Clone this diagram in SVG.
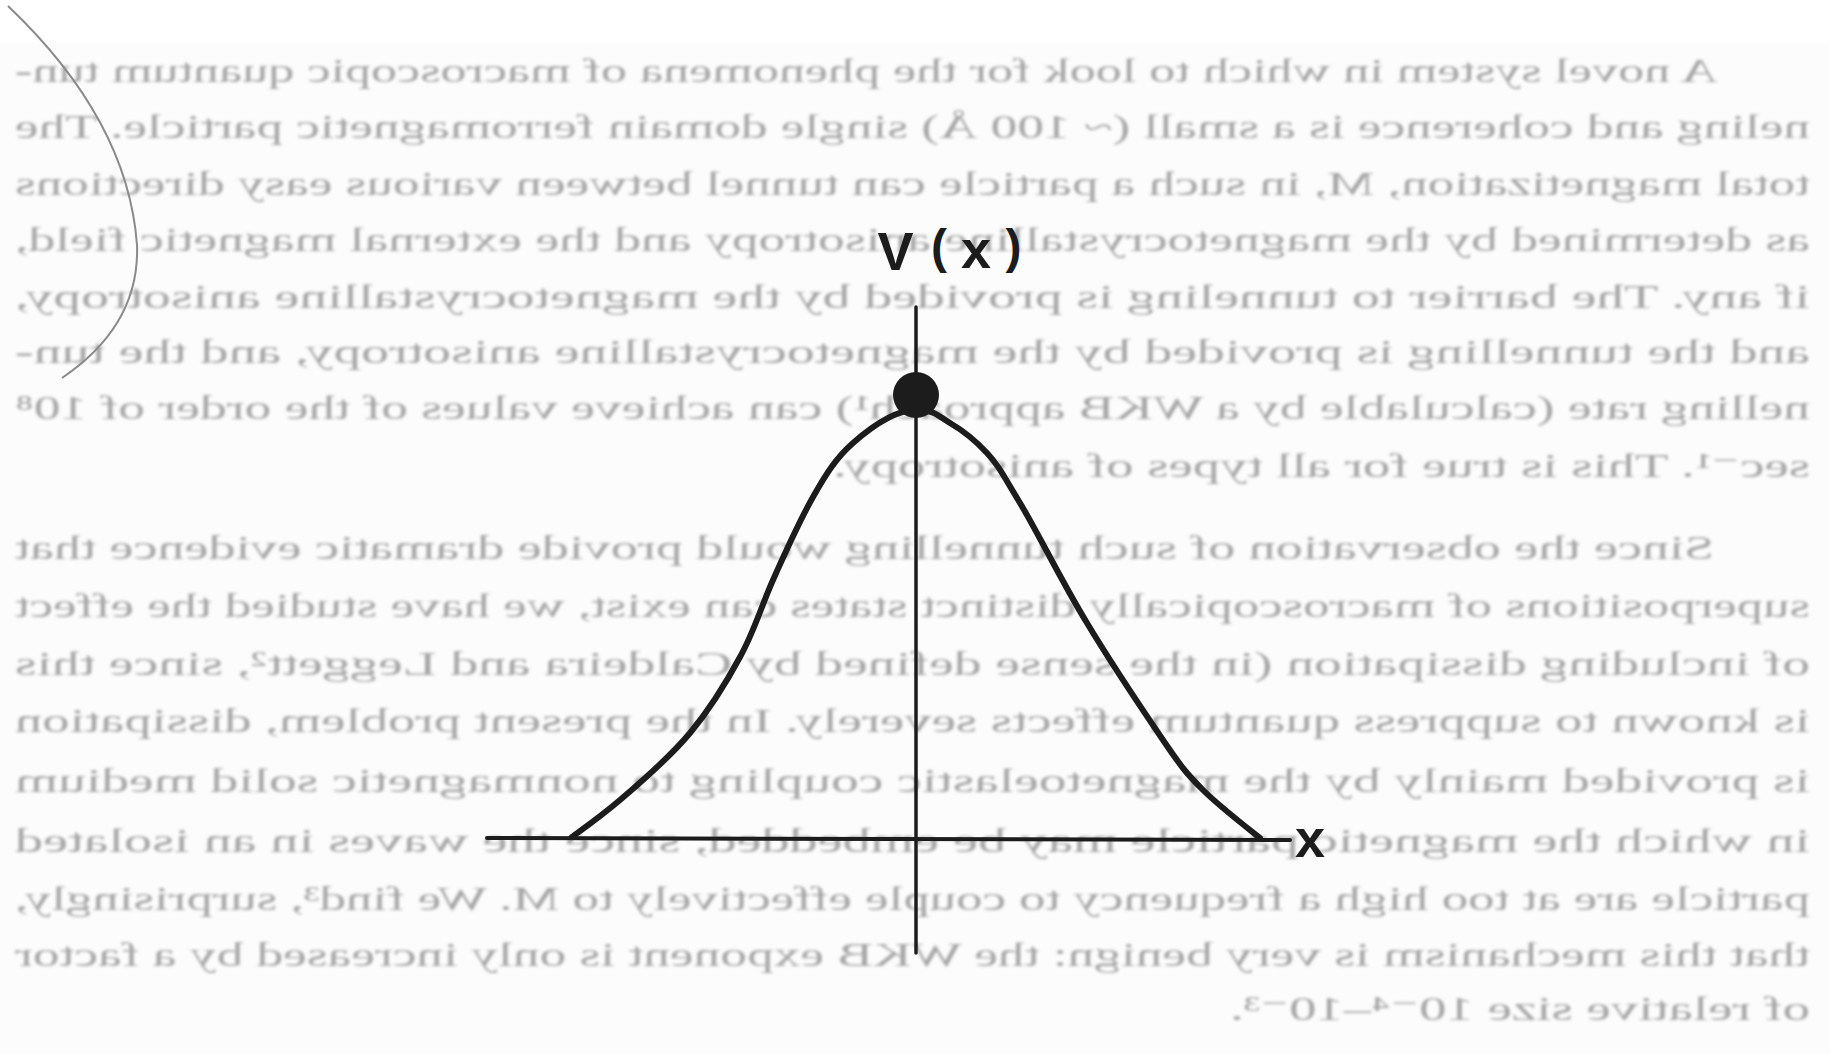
<svg xmlns="http://www.w3.org/2000/svg" width="1830" height="1054" viewBox="0 0 1830 1054">
  <defs>
    <filter id="soft" x="-2%" y="-20%" width="104%" height="140%">
      <feGaussianBlur stdDeviation="1.4"/>
    </filter>
    <style>
      .page { font-family: "Liberation Serif", "DejaVu Serif", serif; font-size: 34px; fill: #a6a6a6; }
      .ink { stroke: #1c1c1c; fill: none; stroke-linecap: round; stroke-linejoin: round; }
      .lbl { font-family: "Liberation Sans", "DejaVu Sans", sans-serif; font-weight: bold; font-size: 54px; fill: #1c1c1c; text-anchor: middle; }
    </style>
  </defs>

  <rect x="0" y="0" width="1830" height="1054" fill="#fcfcfc"/>
  <rect x="0" y="0" width="1830" height="42" fill="#ffffff"/>

  <!-- show-through page text (mirrored) -->
  <g id="page-text" filter="url(#soft)">
    <g transform="matrix(-1 0 0 1 1830 0)" class="page">
      <text x="112" y="82" textLength="1703" lengthAdjust="spacingAndGlyphs">A novel system in which to look for the phenomena of macroscopic quantum tun-</text>
      <text x="20" y="138" textLength="1795" lengthAdjust="spacingAndGlyphs">neling and coherence is a small (~ 100 Å) single domain ferromagnetic particle. The</text>
      <text x="20" y="195" textLength="1795" lengthAdjust="spacingAndGlyphs">total magnetization, M, in such a particle can tunnel between various easy directions</text>
      <text x="20" y="251" textLength="1795" lengthAdjust="spacingAndGlyphs">as determined by the magnetocrystalline anisotropy and the external magnetic field,</text>
      <text x="20" y="308" textLength="1795" lengthAdjust="spacingAndGlyphs">if any. The barrier to tunneling is provided by the magnetocrystalline anisotropy,</text>
      <text x="20" y="363" textLength="1795" lengthAdjust="spacingAndGlyphs">and the tunnelling is provided by the magnetocrystalline anisotropy, and the tun-</text>
      <text x="20" y="419" textLength="1795" lengthAdjust="spacingAndGlyphs">nelling rate (calculable by a WKB approach¹) can achieve values of the order of 10⁸</text>
      <text x="20" y="477" textLength="977" lengthAdjust="spacingAndGlyphs">sec⁻¹. This is true for all types of anisotropy.</text>
      <text x="116" y="559" textLength="1699" lengthAdjust="spacingAndGlyphs">Since the observation of such tunnelling would provide dramatic evidence that</text>
      <text x="20" y="617" textLength="1795" lengthAdjust="spacingAndGlyphs">superpositions of macroscopically distinct states can exist, we have studied the effect</text>
      <text x="20" y="675" textLength="1795" lengthAdjust="spacingAndGlyphs">of including dissipation (in the sense defined by Caldeira and Leggett², since this</text>
      <text x="20" y="732" textLength="1795" lengthAdjust="spacingAndGlyphs">is known to suppress quantum effects severely. In the present problem, dissipation</text>
      <text x="20" y="792" textLength="1795" lengthAdjust="spacingAndGlyphs">is provided mainly by the magnetoelastic coupling to nonmagnetic solid medium</text>
      <text x="20" y="852" textLength="1795" lengthAdjust="spacingAndGlyphs">in which the magnetic particle may be embedded, since the waves in an isolated</text>
      <text x="20" y="910" textLength="1795" lengthAdjust="spacingAndGlyphs">particle are at too high a frequency to couple effectively to M. We find³, surprisingly,</text>
      <text x="20" y="966" textLength="1795" lengthAdjust="spacingAndGlyphs">that this mechanism is very benign: the WKB exponent is only increased by a factor</text>
      <text x="20" y="1020" textLength="580" lengthAdjust="spacingAndGlyphs">of relative size 10⁻⁴–10⁻³.</text>
    </g>
  </g>

  <!-- page curl / binding edge -->
  <g id="page-curl">
    <path d="M 8 6 Q 128 120 137 245 Q 140 325 62 378" fill="none" stroke="#8a8a8a" stroke-width="2"/>
  </g>

  <!-- axes -->
  <g id="axes" class="ink">
    <line x1="916" y1="307" x2="916" y2="953" stroke-width="3.5"/>
    <line x1="487" y1="838" x2="1290" y2="840" stroke-width="4"/>
  </g>

  <!-- potential curve -->
  <g id="curve">
    <path class="ink" stroke-width="6" d="M 572 837 C 580 831 600 817 620 800 C 640 783 670 757 690 733 C 710 709 726 683 740 657 C 754 632 761 607 773 580 C 785 553 800 520 813 497 C 826 474 836 458 853 443 C 870 428 895 410 916 410 C 935 410 938 416 950 423 C 962 430 975 440 987 453 C 999 466 1003 475 1020 503 C 1037 531 1063 584 1087 623 C 1111 663 1144 712 1163 740 C 1182 768 1187 774 1203 790 C 1219 806 1250 830 1260 838"/>
  </g>

  <!-- particle at the top -->
  <g id="peak-dot">
    <circle cx="916" cy="395" r="23" fill="#1c1c1c"/>
  </g>

  <!-- labels -->
  <g id="label-V">
    <text class="lbl"><tspan x="895.5" y="270">V</tspan><tspan x="939" y="263" font-size="48">(</tspan><tspan x="976" y="268">x</tspan><tspan x="1013.5" y="263" font-size="48">)</tspan></text>
  </g>
  <g id="label-x">
    <text class="lbl" x="1310" y="857">x</text>
  </g>
</svg>
